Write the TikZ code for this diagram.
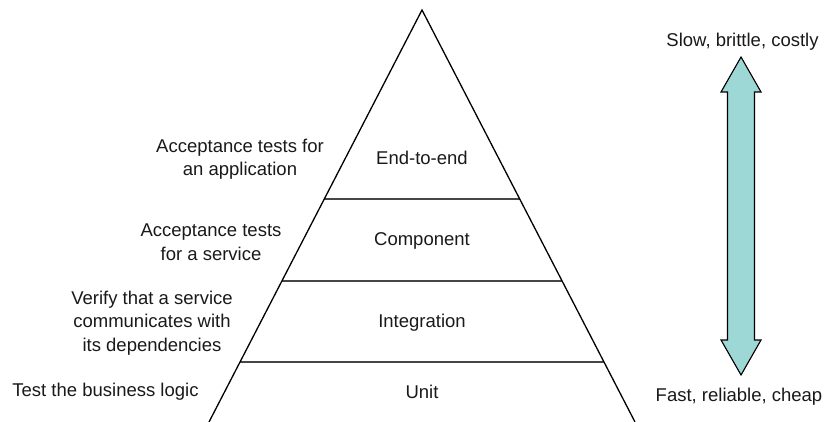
\documentclass[tikz,border=0pt]{standalone}
\usepackage{fontspec}
\setmainfont{Liberation Sans}
\definecolor{arrowfill}{RGB}{157,215,214}
\definecolor{inkgray}{RGB}{70,70,70}
\begin{document}
\begin{tikzpicture}[x=1pt,y=-1pt,
  lbl/.style={font=\fontsize{18.5}{23.5}\selectfont, align=center, inner sep=0pt, text=black!90},
  edge/.style={line width=1.3pt, black},
  tier/.style={line width=1.6pt, inkgray},
  arr/.style={draw=black, line width=1.1pt, fill=arrowfill, line join=miter}]
\useasboundingbox (0,0) rectangle (824,422);
% pyramid
\coordinate (apex) at (422,10);
\coordinate (bl) at (209,422);
\coordinate (br) at (635,422);
\coordinate (l1) at (324,199); \coordinate (r1) at (520,199);
\coordinate (l2) at (282,281); \coordinate (r2) at (562,281);
\coordinate (l3) at (240,362); \coordinate (r3) at (604,362);
\draw[tier] (l1) -- (r1);
\draw[tier] (l2) -- (r2);
\draw[tier] (l3) -- (r3);
\draw[edge] (bl) -- (apex) -- (br);
% tier labels
\node[lbl] (e2e) at (422,158) {End-to-end};
\node[lbl] (comp) at (422,241) {Component};
\node[lbl] (integ) at (422,323) {Integration};
\node[lbl] (unit) at (422,392) {Unit};
% left descriptions
\node[lbl] (d1) at (240,159) {Acceptance tests for\\an application};
\node[lbl] (d2) at (211,242) {Acceptance tests\\for a service};
\node[lbl] (d3) at (152,323) {Verify that a service\\communicates with\\its dependencies};
\node[lbl] (d4) at (105.5,392) {Test the business logic};
% arrow
\node[lbl] (slow) at (742.5,42) {Slow, brittle, costly};
\node[lbl] (fast) at (739,397) {Fast, reliable, cheap};
\draw[arr] (741,57) -- (761,92) -- (754.5,92) -- (754.5,340) -- (761,340) -- (741,375)
  -- (721,340) -- (727.5,340) -- (727.5,92) -- (721,92) -- cycle;
\end{tikzpicture}
\end{document}
